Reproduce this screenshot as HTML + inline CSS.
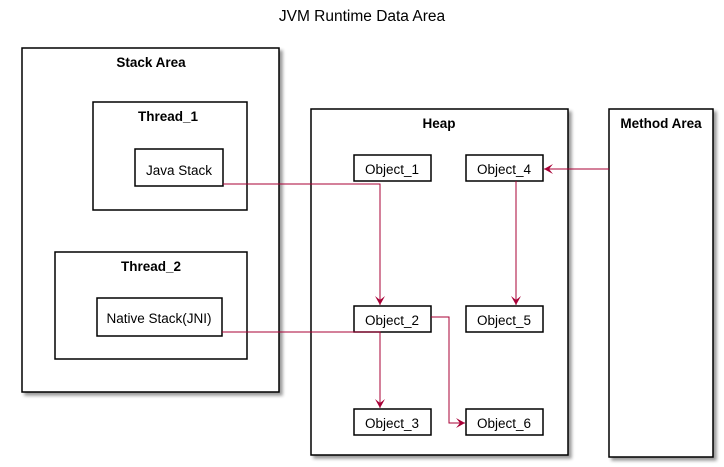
<!DOCTYPE html>
<html><head><meta charset="utf-8"><style>body{margin:0;background:#fff}svg{display:block}</style></head>
<body>
<svg width="724" height="467" viewBox="0 0 724 467" xmlns="http://www.w3.org/2000/svg" font-family="Liberation Sans, sans-serif">
<defs>
<filter id="sh" x="-10%" y="-10%" width="130%" height="130%"><feGaussianBlur in="SourceAlpha" stdDeviation="1.5"/><feOffset dx="3" dy="3"/><feComponentTransfer><feFuncA type="linear" slope="0.4"/></feComponentTransfer><feMerge><feMergeNode/><feMergeNode in="SourceGraphic"/></feMerge></filter>
<marker id="ar" markerWidth="10" markerHeight="10" refX="9" refY="5" orient="auto" markerUnits="userSpaceOnUse"><path d="M0,0 L9,5 L0,10 L4,5 Z" fill="#A80036"/></marker>
</defs>
<text x="362" y="21" font-size="15.5" text-anchor="middle">JVM Runtime Data Area</text>
<g fill="#fff" stroke="#000" stroke-width="1.5" filter="url(#sh)">
<rect x="22" y="48" width="257" height="344"/>
<rect x="93" y="102" width="154" height="108"/>
<rect x="135" y="149" width="88" height="37"/>
<rect x="55" y="252" width="192" height="107"/>
<rect x="97" y="298" width="125" height="38"/>
<rect x="311" y="109" width="257" height="346"/>
<rect x="609" y="109" width="104" height="348"/>
<rect x="354" y="155" width="77" height="26"/>
<rect x="466" y="155" width="77" height="26"/>
<rect x="354" y="306" width="77" height="26"/>
<rect x="466" y="306" width="77" height="26"/>
<rect x="354" y="409" width="77" height="26"/>
<rect x="466" y="409" width="77" height="26"/>
</g>
<g font-size="13.5" font-weight="bold" text-anchor="middle">
<text x="151" y="67">Stack Area</text>
<text x="168" y="121">Thread_1</text>
<text x="151" y="271">Thread_2</text>
<text x="439" y="128">Heap</text>
<text x="661" y="128">Method Area</text>
</g>
<g font-size="13.5" text-anchor="middle">
<text x="179" y="175">Java Stack</text>
<text x="159" y="323">Native Stack(JNI)</text>
<text x="392" y="174">Object_1</text>
<text x="504" y="174">Object_4</text>
<text x="392" y="325">Object_2</text>
<text x="504" y="325">Object_5</text>
<text x="392" y="428">Object_3</text>
<text x="504" y="428">Object_6</text>
</g>
<g fill="none" stroke="#A80036" stroke-width="1">
<path d="M223,184 H380 V305" marker-end="url(#ar)"/>
<path d="M222,332 H380 V408" marker-end="url(#ar)"/>
<path d="M431,317 H449 V423 H465" marker-end="url(#ar)"/>
<path d="M609,169 H544" marker-end="url(#ar)"/>
<path d="M516,181 V305" marker-end="url(#ar)"/>
</g>
</svg>
</body></html>
